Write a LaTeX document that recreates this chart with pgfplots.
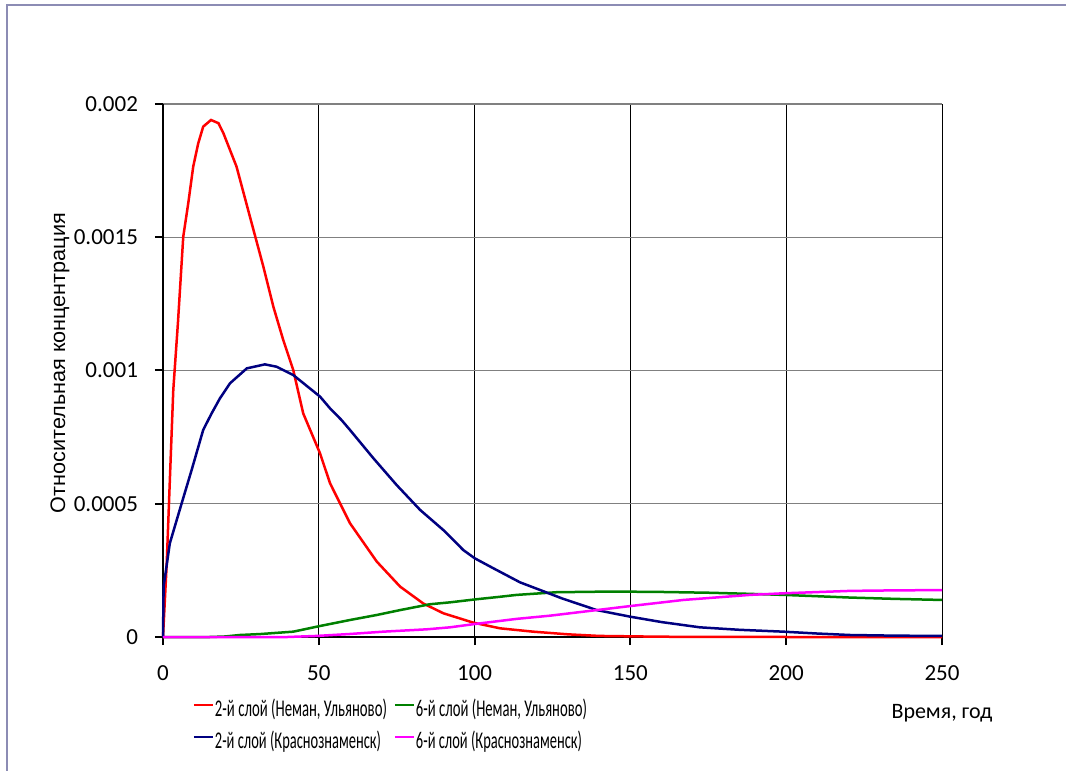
\documentclass[border=0pt]{standalone}
\usepackage{fontspec}
\usepackage{graphicx}
\setmainfont{Carlito}
\newfontfamily\arialf{Liberation Sans}
\usepackage{pgfplots}
\pgfplotsset{compat=1.18}
\definecolor{navyc}{RGB}{0,0,128}
\definecolor{greenc}{RGB}{0,128,0}
\definecolor{magc}{RGB}{255,0,255}
\definecolor{framec}{RGB}{140,140,180}
\newcommand{\legtxt}[2]{\resizebox{#1}{\height}{\fontsize{12}{14}\selectfont #2}}
\begin{document}
\begin{tikzpicture}
\path[use as bounding box] (-81.5pt,-67pt) rectangle (451.5pt,318.5pt);
\draw[framec, line width=1pt] (-77.75pt,-67pt) -- (-77.75pt,316pt) -- (451.5pt,316pt);
\begin{axis}[
  at={(0pt,0pt)}, anchor=south west,
  scale only axis, width=389.5pt, height=266.5pt,
  xmin=0, xmax=250, ymin=0, ymax=0.002,
  axis x line*=bottom, axis y line*=left,
  axis line style={black, line width=1pt},
  xtick={0,50,100,150,200,250},
  ytick={0,0.0005,0.001,0.0015,0.002},
  yticklabels={0,0.0005,0.001,0.0015,0.002},
  scaled y ticks=false,
  /pgf/number format/assume math mode=true,
  tick align=outside, major tick length=4pt,
  tick style={black, line width=1pt},
  xticklabel style={anchor=base, yshift=-17.5pt, font=\fontsize{11.5}{13}\selectfont},
  yticklabel style={anchor=east, xshift=-5pt, font=\fontsize{11.5}{13}\selectfont},
  grid=major,
  x grid style={black, line width=0.5pt},
  y grid style={gray, line width=0.6pt},
  clip=false,
  xlabel={Время, год},
  xlabel style={at={(axis description cs:1,0)}, anchor=base, yshift=-40.5pt, font=\fontsize{11}{13}\selectfont},
  ylabel={\resizebox{150pt}{\height}{\arialf Относительная концентрация}},
  ylabel style={at={(axis description cs:-0.1258,0.514)}, anchor=base, rotate=0, font=\fontsize{10.5}{12}\selectfont},
  legend columns=2,
  legend cell align=left,
  legend style={at={(axis description cs:0.0385,-0.1107)}, anchor=north west,
    draw=none, fill=none, inner sep=0pt, outer sep=0pt, row sep=0pt,
    nodes={inner sep=0pt, text height=10pt, text depth=6pt},
    /tikz/every odd column/.append style={column sep=0.5pt},
    /tikz/every even column/.append style={column sep=3.5pt}},
  legend image code/.code={\draw[#1, line width=1pt] (0pt,3.5pt) -- (9.5pt,3.5pt);},
]
\addplot[red, line width=1.25pt] coordinates {
(0,0) (1.2,0.000277) (2.2,0.000589) (3.3,0.000927) (4.8,0.00118) (6.5,0.001502) (8.1,0.001627) (9.7,0.001765) (11.3,0.001852) (12.9,0.001915) (15.4,0.00194) (17.8,0.001928) (19.4,0.00189) (23.6,0.001765) (27.9,0.001577) (32.2,0.00139) (35.4,0.00124) (38.6,0.001114) (41.8,0.001002) (45,0.000839) (50.4,0.000689) (53.6,0.000577) (60,0.000427) (68.6,0.000283) (76.1,0.000189) (83.5,0.000126) (90,0.0000889) (99.6,0.0000538) (108.2,0.0000325) (118.8,0.00002) (130,0.00001) (140,0.000004) (160,0.000001) (200,0) (250,0)
};
\addlegendentry{\legtxt{86pt}{2-й слой (Неман, Ульяново)}}
\addplot[greenc, line width=1.25pt] coordinates {
(0,0) (15,0) (20,0.000002) (24.7,0.0000075) (31.1,0.000011) (41.8,0.00002) (50.4,0.0000413) (60,0.0000638) (68.6,0.0000826) (76.1,0.000101) (85.7,0.000123) (92.1,0.00013) (100.1,0.000141) (108.2,0.000151) (113.5,0.000158) (126.3,0.000168) (140,0.00017) (149.9,0.00017) (160,0.000169) (175.5,0.000166) (188,0.000162) (199.1,0.000158) (210,0.000153) (220.5,0.000148) (235,0.000143) (250,0.000139)
};
\addlegendentry{\legtxt{85.5pt}{6-й слой (Неман, Ульяново)}}
\addplot[navyc, line width=1.25pt] coordinates {
(0,0) (0.2,0.00019) (2.2,0.000352) (6,0.000502) (9.2,0.000627) (12.9,0.000777) (15.6,0.000839) (18.3,0.000896) (21.5,0.000952) (26.9,0.001008) (32.7,0.001023) (36.5,0.001014) (41.8,0.000983) (50.4,0.000902) (53.6,0.000858) (57.3,0.000814) (60,0.000777) (67.5,0.000671) (75,0.00057) (82.5,0.000477) (90,0.000401) (96.4,0.000326) (100.1,0.000295) (106,0.000258) (114.6,0.000205) (122,0.000172) (128,0.000145) (139.2,0.000101) (149.9,0.0000763) (160,0.000056) (172.3,0.0000363) (185,0.000027) (199.1,0.00002) (210,0.000013) (220.5,0.0000075) (235,0.000005) (250,0.000004)
};
\addlegendentry{\legtxt{83pt}{2-й слой (Краснознаменск)}}
\addplot[magc, line width=1.25pt] coordinates {
(0,0) (40,0) (49.3,0.000004) (60,0.0000113) (70.7,0.00002) (84.6,0.0000288) (92.1,0.0000363) (100.1,0.0000488) (113.5,0.000068) (124.2,0.00008) (139.2,0.000101) (149.9,0.000116) (167,0.000139) (188.4,0.000158) (199.1,0.000164) (220.5,0.000173) (235,0.000175) (250,0.000176)
};
\addlegendentry{\legtxt{83pt}{6-й слой (Краснознаменск)}}
\end{axis}
\end{tikzpicture}
\end{document}
